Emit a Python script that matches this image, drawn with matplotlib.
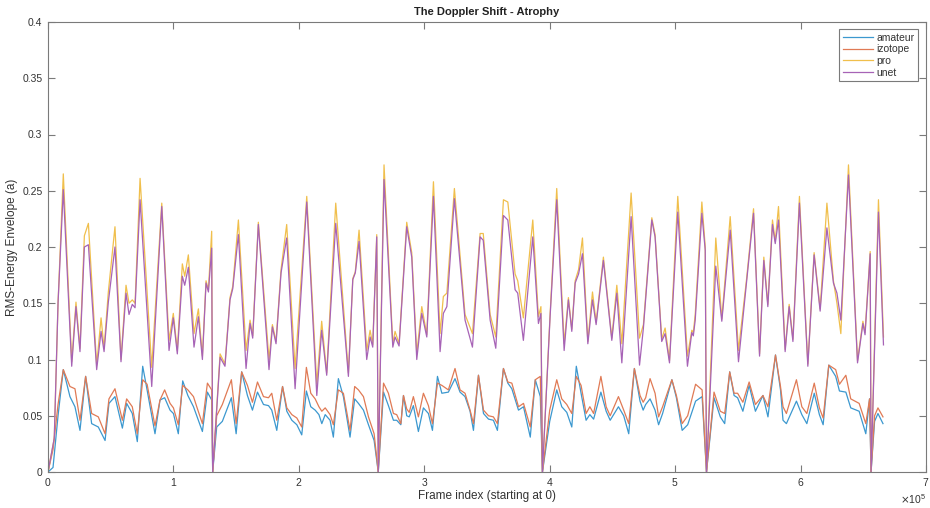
import numpy as np
import matplotlib
matplotlib.use("Agg")
import matplotlib.pyplot as plt
from matplotlib.ticker import ScalarFormatter

plt.rcParams['font.family'] = ['Liberation Sans', 'DejaVu Sans']

# ---------------- data (x in units of 1e5 frames) ----------------
x_upper = [0.00, 0.05, 0.08, 0.122, 0.189, 0.223, 0.255, 0.29, 0.322, 0.388, 0.423, 0.447, 0.481, 0.534,
           0.582, 0.622, 0.646, 0.672, 0.694, 0.734, 0.827, 0.907, 0.965, 0.999, 1.031, 1.071, 1.090,
           1.119, 1.164, 1.199, 1.231, 1.260, 1.279, 1.305, 1.313,
           1.372, 1.411, 1.451, 1.473, 1.518, 1.579, 1.611, 1.632, 1.677, 1.762, 1.789, 1.818, 1.858,
           1.903, 1.970, 2.063, 2.143, 2.182, 2.222, 2.294, 2.395, 2.430, 2.450, 2.480, 2.541, 2.568,
           2.589, 2.621, 2.633,
           2.679, 2.749, 2.767, 2.799, 2.860, 2.900, 2.940, 2.980, 3.020, 3.073, 3.126, 3.152, 3.180,
           3.240, 3.325, 3.384, 3.445, 3.470, 3.525, 3.570, 3.631, 3.666, 3.724, 3.745, 3.790, 3.865,
           3.910, 3.930, 3.942,
           4.003, 4.056, 4.115, 4.149, 4.176, 4.203, 4.230, 4.261, 4.304, 4.341, 4.370, 4.428, 4.495,
           4.535, 4.575, 4.649, 4.716, 4.747, 4.814, 4.840, 4.893, 4.920, 4.955, 5.021, 5.098, 5.133,
           5.145, 5.160, 5.213, 5.240, 5.250,
           5.324, 5.372, 5.439, 5.505, 5.570, 5.625, 5.673, 5.707, 5.739, 5.776, 5.798, 5.824, 5.877,
           5.909, 5.939, 5.991, 6.058, 6.108, 6.156, 6.210, 6.262, 6.290, 6.321, 6.382, 6.454, 6.497,
           6.514, 6.555, 6.562,
           6.621, 6.661]

unet = [0.000, 0.030, 0.150, 0.251, 0.094, 0.147, 0.107, 0.200, 0.202, 0.091, 0.125, 0.107, 0.151, 0.200,
        0.098, 0.159, 0.140, 0.149, 0.146, 0.242, 0.076, 0.236, 0.108, 0.137, 0.105, 0.174, 0.166,
        0.182, 0.111, 0.138, 0.100, 0.168, 0.160, 0.199, 0.000,
        0.102, 0.094, 0.153, 0.163, 0.211, 0.092, 0.132, 0.119, 0.220, 0.091, 0.129, 0.114, 0.177,
        0.208, 0.074, 0.240, 0.068, 0.126, 0.086, 0.221, 0.085, 0.171, 0.177, 0.205, 0.100, 0.120,
        0.111, 0.209, 0.000,
        0.260, 0.111, 0.120, 0.112, 0.218, 0.191, 0.100, 0.141, 0.120, 0.245, 0.107, 0.141, 0.147,
        0.243, 0.135, 0.111, 0.209, 0.206, 0.135, 0.110, 0.228, 0.224, 0.162, 0.159, 0.117, 0.209,
        0.132, 0.141, 0.000,
        0.138, 0.242, 0.108, 0.153, 0.125, 0.168, 0.176, 0.194, 0.114, 0.153, 0.131, 0.188, 0.117,
        0.159, 0.097, 0.227, 0.095, 0.128, 0.224, 0.209, 0.116, 0.123, 0.097, 0.231, 0.094, 0.124,
        0.121, 0.135, 0.230, 0.197, 0.000,
        0.183, 0.134, 0.215, 0.098, 0.170, 0.230, 0.103, 0.188, 0.147, 0.220, 0.203, 0.224, 0.107,
        0.147, 0.116, 0.239, 0.094, 0.193, 0.143, 0.217, 0.168, 0.159, 0.135, 0.264, 0.097, 0.132,
        0.122, 0.194, 0.000,
        0.231, 0.113]

pro = [0.000, 0.030, 0.150, 0.265, 0.098, 0.151, 0.110, 0.210, 0.221, 0.095, 0.137, 0.110, 0.160, 0.218,
       0.100, 0.166, 0.150, 0.153, 0.150, 0.261, 0.093, 0.239, 0.117, 0.141, 0.108, 0.185, 0.174,
       0.193, 0.123, 0.145, 0.103, 0.170, 0.162, 0.214, 0.000,
       0.105, 0.096, 0.155, 0.165, 0.224, 0.108, 0.135, 0.121, 0.222, 0.100, 0.131, 0.116, 0.180,
       0.220, 0.092, 0.245, 0.078, 0.134, 0.088, 0.239, 0.088, 0.172, 0.178, 0.215, 0.108, 0.126,
       0.113, 0.211, 0.000,
       0.273, 0.114, 0.125, 0.114, 0.222, 0.195, 0.105, 0.147, 0.122, 0.258, 0.123, 0.156, 0.159,
       0.252, 0.140, 0.123, 0.212, 0.212, 0.140, 0.120, 0.242, 0.240, 0.176, 0.170, 0.137, 0.224,
       0.138, 0.147, 0.000,
       0.140, 0.252, 0.114, 0.155, 0.127, 0.170, 0.180, 0.208, 0.116, 0.160, 0.133, 0.191, 0.119,
       0.166, 0.114, 0.248, 0.119, 0.131, 0.226, 0.211, 0.118, 0.128, 0.099, 0.245, 0.103, 0.126,
       0.124, 0.140, 0.240, 0.200, 0.000,
       0.208, 0.136, 0.227, 0.108, 0.172, 0.234, 0.105, 0.191, 0.149, 0.224, 0.205, 0.236, 0.109,
       0.149, 0.118, 0.245, 0.096, 0.195, 0.145, 0.239, 0.170, 0.150, 0.123, 0.273, 0.099, 0.134,
       0.124, 0.196, 0.000,
       0.242, 0.120]

x_lower = [0.00, 0.04, 0.08, 0.122, 0.175, 0.215, 0.255, 0.300, 0.348, 0.401, 0.455, 0.486, 0.534, 0.593,
           0.627, 0.672, 0.712, 0.755, 0.790, 0.853, 0.893, 0.930, 0.973, 1.000, 1.039, 1.074, 1.115,
           1.160, 1.186, 1.231, 1.271, 1.305, 1.313,
           1.345, 1.390, 1.462, 1.500, 1.544, 1.590, 1.630, 1.670, 1.718, 1.758, 1.784, 1.824, 1.870,
           1.904, 1.944, 1.984, 2.023, 2.060, 2.095, 2.130, 2.160, 2.183, 2.210, 2.249, 2.275, 2.315,
           2.355, 2.408, 2.445, 2.475, 2.515, 2.555, 2.600, 2.633,
           2.675, 2.714, 2.754, 2.780, 2.813, 2.834, 2.860, 2.880, 2.913, 2.953, 2.993, 3.033, 3.065,
           3.105, 3.140, 3.192, 3.245, 3.285, 3.325, 3.365, 3.392, 3.432, 3.472, 3.512, 3.551, 3.583,
           3.631, 3.666, 3.698, 3.751, 3.791, 3.845, 3.885, 3.925, 3.942,
           4.000, 4.056, 4.096, 4.136, 4.176, 4.212, 4.250, 4.290, 4.320, 4.350, 4.408, 4.450, 4.482,
           4.548, 4.590, 4.630, 4.675, 4.720, 4.745, 4.765, 4.800, 4.840, 4.868, 4.900, 4.974, 5.010,
           5.056, 5.100, 5.163, 5.215, 5.250,
           5.310, 5.360, 5.395, 5.435, 5.470, 5.498, 5.540, 5.590, 5.640, 5.700, 5.740, 5.800, 5.840,
           5.860, 5.887, 5.967, 6.010, 6.050, 6.109, 6.150, 6.180, 6.225, 6.280, 6.310, 6.361, 6.400,
           6.467, 6.520, 6.550, 6.562,
           6.590, 6.617, 6.657]

amateur = [0.000, 0.004, 0.050, 0.091, 0.067, 0.058, 0.037, 0.085, 0.043, 0.040, 0.028, 0.061, 0.067, 0.039,
           0.061, 0.052, 0.027, 0.094, 0.073, 0.034, 0.064, 0.066, 0.055, 0.052, 0.034, 0.081, 0.068,
           0.058, 0.050, 0.036, 0.071, 0.064, 0.000,
           0.040, 0.045, 0.066, 0.034, 0.089, 0.068, 0.055, 0.071, 0.060, 0.059, 0.055, 0.037, 0.076,
           0.054, 0.046, 0.042, 0.033, 0.072, 0.058, 0.055, 0.051, 0.043, 0.051, 0.046, 0.031, 0.083,
           0.067, 0.031, 0.065, 0.061, 0.055, 0.042, 0.028, 0.000,
           0.071, 0.059, 0.046, 0.046, 0.042, 0.068, 0.050, 0.049, 0.059, 0.036, 0.057, 0.052, 0.037,
           0.085, 0.070, 0.071, 0.083, 0.071, 0.067, 0.054, 0.037, 0.086, 0.052, 0.047, 0.046, 0.037,
           0.092, 0.079, 0.074, 0.055, 0.058, 0.031, 0.082, 0.067, 0.000,
           0.045, 0.073, 0.058, 0.053, 0.040, 0.094, 0.070, 0.046, 0.051, 0.047, 0.071, 0.054, 0.046,
           0.058, 0.050, 0.034, 0.092, 0.063, 0.055, 0.060, 0.065, 0.055, 0.042, 0.052, 0.082, 0.066,
           0.037, 0.042, 0.063, 0.067, 0.000,
           0.066, 0.049, 0.043, 0.089, 0.068, 0.066, 0.054, 0.077, 0.054, 0.068, 0.049, 0.104, 0.073,
           0.046, 0.043, 0.063, 0.051, 0.043, 0.070, 0.051, 0.042, 0.095, 0.085, 0.072, 0.071, 0.057,
           0.054, 0.034, 0.065, 0.000,
           0.045, 0.052, 0.043]

izotope = [0.000, 0.020, 0.060, 0.091, 0.076, 0.074, 0.046, 0.085, 0.052, 0.049, 0.034, 0.065, 0.074, 0.046,
           0.065, 0.058, 0.034, 0.082, 0.078, 0.041, 0.064, 0.073, 0.061, 0.057, 0.042, 0.077, 0.073,
           0.067, 0.058, 0.043, 0.079, 0.073, 0.000,
           0.050, 0.060, 0.082, 0.043, 0.089, 0.077, 0.062, 0.080, 0.067, 0.066, 0.070, 0.046, 0.076,
           0.057, 0.051, 0.048, 0.040, 0.093, 0.070, 0.065, 0.058, 0.054, 0.057, 0.051, 0.042, 0.073,
           0.070, 0.037, 0.076, 0.073, 0.067, 0.049, 0.034, 0.000,
           0.079, 0.070, 0.052, 0.051, 0.043, 0.068, 0.056, 0.053, 0.067, 0.049, 0.070, 0.059, 0.043,
           0.079, 0.077, 0.073, 0.092, 0.073, 0.070, 0.055, 0.043, 0.086, 0.055, 0.050, 0.049, 0.043,
           0.092, 0.080, 0.079, 0.058, 0.061, 0.040, 0.082, 0.085, 0.000,
           0.055, 0.082, 0.065, 0.060, 0.052, 0.085, 0.077, 0.052, 0.058, 0.052, 0.085, 0.058, 0.050,
           0.067, 0.055, 0.043, 0.092, 0.068, 0.062, 0.066, 0.083, 0.070, 0.049, 0.058, 0.082, 0.068,
           0.043, 0.050, 0.078, 0.073, 0.000,
           0.071, 0.054, 0.052, 0.089, 0.070, 0.070, 0.062, 0.080, 0.060, 0.068, 0.058, 0.104, 0.076,
           0.058, 0.052, 0.082, 0.058, 0.052, 0.079, 0.057, 0.048, 0.095, 0.091, 0.078, 0.086, 0.065,
           0.061, 0.043, 0.065, 0.000,
           0.050, 0.057, 0.049]

labels = ['amateur', 'izotope', 'pro', 'unet']
colors = ['#3c98cf', '#e07a55', '#f0bf4c', '#a763b6']
x_ticks = [0, 1, 2, 3, 4, 5, 6, 7]
y_ticks = [0, 0.05, 0.1, 0.15, 0.2, 0.25, 0.3, 0.35, 0.4]
y_tick_labels = ['0', '0.05', '0.1', '0.15', '0.2', '0.25', '0.3', '0.35', '0.4']

# ---------------- figure ----------------
W, H = 930, 508
fig = plt.figure(figsize=(W / 100, H / 100), dpi=100)
ax = fig.add_axes([48 / W, 36 / H, (926 - 48) / W, (472 - 22) / H])

xs_l = np.array(x_lower) * 1e5
xs_u = np.array(x_upper) * 1e5
ax.plot(xs_l, amateur, color=colors[0], lw=0.9, label=labels[0])
ax.plot(xs_l, izotope, color=colors[1], lw=0.9, label=labels[1])
ax.plot(xs_u, pro, color=colors[2], lw=0.9, label=labels[2])
ax.plot(xs_u, unet, color=colors[3], lw=0.9, label=labels[3])

ax.set_xlim(0, 7e5)
ax.set_ylim(0, 0.4)
ax.set_xticks(np.array(x_ticks) * 1e5)
ax.set_yticks(y_ticks)
ax.set_yticklabels(y_tick_labels)
fmt = ScalarFormatter(useMathText=True)
fmt.set_powerlimits((0, 0))
ax.xaxis.set_major_formatter(fmt)

axcol = '#7a7a7a'
txtcol = '#333333'
for s in ax.spines.values():
    s.set_color(axcol)
    s.set_linewidth(0.8)
ax.tick_params(direction='in', length=5, width=0.8, color=axcol, labelcolor=txtcol,
               labelsize=7.5, top=True, right=True)
ax.tick_params(axis='x', pad=3)
ax.tick_params(axis='y', pad=4)
ax.xaxis.get_offset_text().set_fontsize(7.5)
ax.xaxis.get_offset_text().set_color(txtcol)

ax.set_title('The Doppler Shift - Atrophy', fontsize=8, fontweight='bold', color='#222222', pad=5)
ax.set_xlabel('Frame index (starting at 0)', fontsize=8.5, color=txtcol, labelpad=1)
ax.set_ylabel('RMS-Energy Envelope (a)', fontsize=8.5, color=txtcol, labelpad=3)

leg = ax.legend(loc='upper right', bbox_to_anchor=(0.991, 0.984), borderaxespad=0,
                fontsize=7.5, handlelength=2.9, handletextpad=0.3, labelspacing=0.15,
                borderpad=0.35, fancybox=False, framealpha=1, edgecolor=axcol)
leg.get_frame().set_linewidth(0.8)
for t in leg.get_texts():
    t.set_color(txtcol)

fig.savefig('out.png', dpi=100)
